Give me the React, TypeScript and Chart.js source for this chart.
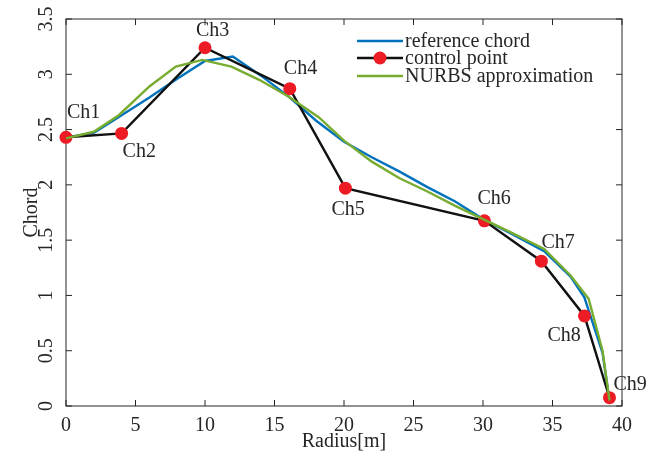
import { useEffect, useRef } from 'react';
import { Chart, registerables } from 'chart.js';

Chart.register(...registerables);

const refRadius = [0, 2, 4, 6, 8, 10, 12, 14, 16, 18, 20, 22, 24, 26, 28, 30, 32, 34.4, 36.3, 37.3, 38.6, 39.1];
const refChord = [2.43, 2.47, 2.63, 2.79, 2.96, 3.12, 3.16, 2.99, 2.8, 2.58, 2.39, 2.25, 2.12, 1.98, 1.85, 1.69, 1.56, 1.4, 1.17, 0.98, 0.48, 0.05];

const ctrlRadius = [0, 4, 10, 16.1, 20.1, 30.1, 34.2, 37.3, 39.1];
const ctrlChord = [2.43, 2.465, 3.24, 2.87, 1.97, 1.675, 1.31, 0.815, 0.075];
const ctrlLabels = ['Ch1', 'Ch2', 'Ch3', 'Ch4', 'Ch5', 'Ch6', 'Ch7', 'Ch8', 'Ch9'];

const nurbsRadius = [0, 2, 3.8, 6, 7.9, 9.8, 11.9, 13.9, 16, 18.2, 20, 22, 24, 26, 28, 30, 32, 34.4, 36.3, 37.6, 38.6, 39.1];
const nurbsChord = [2.42, 2.48, 2.63, 2.89, 3.07, 3.13, 3.07, 2.95, 2.8, 2.61, 2.4, 2.21, 2.06, 1.94, 1.81, 1.69, 1.57, 1.42, 1.18, 0.97, 0.5, 0.05];

const xTicks = [0, 5, 10, 15, 20, 25, 30, 35, 40];
const yTicks = [0, 0.5, 1, 1.5, 2, 2.5, 3, 3.5];

const seriesNames = ['reference chord', 'control point', 'NURBS approximation'];
const xTitle = 'Radius[m]';
const yTitle = 'Chord';

const FONT = '"Liberation Serif", "Times New Roman", serif';
const AXIS = '#262626';
const BLUE = '#0072BD';
const GREEN = '#77AC30';
const RED = '#ED1C24';
const LW = 2.4;

// label placement relative to each control point (pixels)
const labelOffsets: [number, number][] = [
  [1, -25], [1, 18], [-9, -17], [-6, -20], [-14, 22], [-7, -22], [0, -18], [-37, 20], [4, -13],
];

const framePlugin = {
  id: 'frame',
  beforeDatasetsDraw(chart: any) {
    const { ctx, chartArea, scales } = chart;
    const { left, right, top, bottom } = chartArea;
    ctx.save();
    ctx.strokeStyle = AXIS;
    ctx.lineWidth = 1;
    ctx.strokeRect(left, top, right - left, bottom - top);
    const tl = 6;
    ctx.beginPath();
    scales.x.ticks.forEach((t: any) => {
      const px = scales.x.getPixelForValue(t.value);
      ctx.moveTo(px, bottom);
      ctx.lineTo(px, bottom - tl);
      ctx.moveTo(px, top);
      ctx.lineTo(px, top + tl);
    });
    scales.y.ticks.forEach((t: any) => {
      const py = scales.y.getPixelForValue(t.value);
      ctx.moveTo(left, py);
      ctx.lineTo(left + tl, py);
      ctx.moveTo(right, py);
      ctx.lineTo(right - tl, py);
    });
    ctx.stroke();
    ctx.restore();
  },
};

const labelPlugin = {
  id: 'ctrlLabels',
  afterDatasetsDraw(chart: any) {
    const { ctx } = chart;
    const meta = chart.getDatasetMeta(1);
    ctx.save();
    ctx.font = `20px ${FONT}`;
    ctx.fillStyle = AXIS;
    ctx.textAlign = 'left';
    ctx.textBaseline = 'middle';
    meta.data.forEach((pt: any, i: number) => {
      const [dx, dy] = labelOffsets[i];
      ctx.fillText(ctrlLabels[i], pt.x + dx, pt.y + dy);
    });
    ctx.restore();
  },
};

const legendPlugin = {
  id: 'insideLegend',
  afterDraw(chart: any) {
    const { ctx } = chart;
    const x0 = 357;
    const x1 = 403;
    const rows = [41, 58, 76];
    ctx.save();
    ctx.font = `20px ${FONT}`;
    ctx.textAlign = 'left';
    ctx.textBaseline = 'middle';
    chart.data.datasets.forEach((ds: any, i: number) => {
      const y = rows[i];
      ctx.strokeStyle = ds.borderColor;
      ctx.lineWidth = ds.borderWidth;
      ctx.beginPath();
      ctx.moveTo(x0, y);
      ctx.lineTo(x1, y);
      ctx.stroke();
      if (ds.pointRadius > 0) {
        ctx.fillStyle = ds.pointBackgroundColor;
        ctx.beginPath();
        ctx.arc((x0 + x1) / 2, y, ds.pointRadius, 0, Math.PI * 2);
        ctx.fill();
      }
      ctx.fillStyle = AXIS;
      ctx.fillText(ds.label, x1 + 2, y + 1);
    });
    ctx.restore();
  },
};

export default function App() {
  const canvasRef = useRef<HTMLCanvasElement | null>(null);

  useEffect(() => {
    document.body.style.margin = '0';
    const canvas = canvasRef.current;
    if (!canvas) return;
    const chart = new Chart(canvas, {
      type: 'line',
      data: {
        datasets: [
          {
            label: seriesNames[0],
            data: refRadius.map((r, i) => ({ x: r, y: refChord[i] })),
            borderColor: BLUE,
            borderWidth: LW,
            pointRadius: 0,
            tension: 0,
            order: 3,
          },
          {
            label: seriesNames[1],
            data: ctrlRadius.map((r, i) => ({ x: r, y: ctrlChord[i] })),
            borderColor: '#111111',
            borderWidth: LW,
            pointRadius: 6.5,
            pointBackgroundColor: RED,
            pointBorderColor: RED,
            pointBorderWidth: 0,
            tension: 0,
            order: 2,
          },
          {
            label: seriesNames[2],
            data: nurbsRadius.map((r, i) => ({ x: r, y: nurbsChord[i] })),
            borderColor: GREEN,
            borderWidth: LW,
            pointRadius: 0,
            tension: 0,
            order: 1,
          },
        ],
      },
      options: {
        animation: false,
        responsive: true,
        maintainAspectRatio: false,
        clip: false as any,
        layout: { padding: { left: 0, top: 15, right: 28, bottom: 0 } },
        plugins: {
          legend: { display: false },
          tooltip: { enabled: false },
        },
        scales: {
          x: {
            type: 'linear',
            min: 0,
            max: 40,
            afterBuildTicks: (s: any) => {
              s.ticks = xTicks.map((v) => ({ value: v }));
            },
            afterFit: (s: any) => {
              s.height = 52;
            },
            grid: { display: false, drawTicks: false },
            border: { display: false },
            ticks: {
              font: { family: FONT, size: 20 },
              color: AXIS,
              padding: 8,
              maxRotation: 0,
              callback: (v: any) => String(v),
            },
            title: {
              display: true,
              text: xTitle,
              font: { family: FONT, size: 20 },
              color: AXIS,
              padding: { top: 0, bottom: 4 },
            },
          },
          y: {
            type: 'linear',
            min: 0,
            max: 3.5,
            afterBuildTicks: (s: any) => {
              s.ticks = yTicks.map((v) => ({ value: v }));
            },
            afterFit: (s: any) => {
              s.width = 66;
            },
            grid: { display: false, drawTicks: false },
            border: { display: false },
            ticks: {
              font: { family: FONT, size: 20 },
              color: AXIS,
              padding: 7,
              minRotation: 90,
              maxRotation: 90,
              crossAlign: 'center',
              callback: (v: any) => String(v),
            },
            title: {
              display: true,
              text: yTitle,
              font: { family: FONT, size: 20 },
              color: AXIS,
              padding: { top: 20, bottom: 0 },
            },
          },
        },
      },
      plugins: [framePlugin, labelPlugin, legendPlugin],
    });
    return () => chart.destroy();
  }, []);

  return (
    <div style={{ position: 'absolute', left: 0, top: 0, width: 650, height: 458 }}>
      <canvas ref={canvasRef} />
    </div>
  );
}
